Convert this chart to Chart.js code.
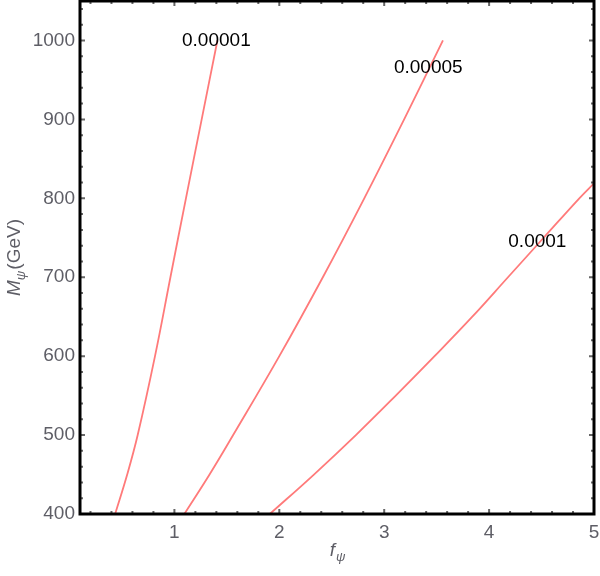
<!DOCTYPE html>
<html>
<head>
<meta charset="utf-8">
<script src="https://cdn.jsdelivr.net/npm/chart.js@4.4.0/dist/chart.umd.min.js"></script>
<style>
    html, body { margin: 0; padding: 0; background: #fff; }
    #wrap { width: 600px; height: 576px; }
</style>
</head>
<body>
<div id="wrap"><canvas id="contours" width="600" height="576"></canvas></div>
<script>
// Contour lines: f_psi for a given M_psi (GeV)
const mass1 = [400, 450, 500, 600, 700, 800, 900, 1000];
const fpsi1 = [0.435, 0.55, 0.65, 0.815, 0.962, 1.11, 1.26, 1.41];

const mass2 = [400, 450, 500, 600, 700, 800, 900, 1000];
const fpsi2 = [1.095, 1.335, 1.56, 2.0, 2.415, 2.81, 3.19, 3.56];

const mass3 = [400, 450, 500, 550, 600, 650, 700, 750, 800, 819];
const fpsi3 = [1.91, 2.33, 2.73, 3.11, 3.48, 3.84, 4.18, 4.52, 4.86, 5.0];

// contour level labels and where they sit (data coords)
const levelNames = ['0.00001', '0.00005', '0.0001'];
const levelF = [1.40, 3.42, 4.46];
const levelM = [1000, 965, 745];

const xTicks = [1, 2, 3, 4, 5];
const yTicks = [400, 500, 600, 700, 800, 900, 1000];

const lineColor = 'rgb(255, 122, 122)';
const tickColor = '#5e5e66';
const fontFamily = '"Liberation Sans", Arial, Helvetica, sans-serif';

function toPoints(fs, ms) {
    return fs.map((f, i) => ({ x: f, y: ms[i] }));
}

function contourSet(fs, ms) {
    return {
        data: toPoints(fs, ms),
        borderColor: lineColor,
        borderWidth: 1.8,
        pointRadius: 0,
        fill: false,
        tension: 0.4
    };
}

// frame, inner ticks, contour labels and axis titles, Mathematica style
const framePlugin = {
    id: 'frame',
    afterDatasetsDraw(chart) {
        const { ctx, chartArea: a, scales: { x, y } } = chart;
        ctx.save();

        // ticks on all four sides, pointing inward
        ctx.strokeStyle = '#666';
        ctx.lineWidth = 2;
        for (let v = 0.2; v < 5.01; v += 0.2) {
            const px = x.getPixelForValue(v);
            if (px < a.left + 2) continue;
            const major = Math.abs(v - Math.round(v)) < 1e-6;
            const len = major ? 5 : 3;
            ctx.beginPath();
            ctx.moveTo(px, a.bottom);
            ctx.lineTo(px, a.bottom - len);
            ctx.moveTo(px, a.top);
            ctx.lineTo(px, a.top + len);
            ctx.stroke();
        }
        for (let v = 420; v <= 1040; v += 20) {
            const py = y.getPixelForValue(v);
            const major = v % 100 === 0;
            const len = major ? 5 : 3;
            ctx.beginPath();
            ctx.moveTo(a.left, py);
            ctx.lineTo(a.left + len, py);
            ctx.moveTo(a.right, py);
            ctx.lineTo(a.right - len, py);
            ctx.stroke();
        }

        // frame
        ctx.strokeStyle = '#000';
        ctx.lineWidth = 3;
        ctx.strokeRect(a.left, a.top, a.right - a.left, a.bottom - a.top);

        // contour labels
        ctx.fillStyle = '#000';
        ctx.font = '19px ' + fontFamily;
        ctx.textAlign = 'center';
        ctx.textBaseline = 'middle';
        levelNames.forEach((name, i) => {
            ctx.fillText(name, x.getPixelForValue(levelF[i]), y.getPixelForValue(levelM[i]));
        });

        // axis titles with subscripts
        ctx.fillStyle = tickColor;
        ctx.textBaseline = 'alphabetic';
        ctx.textAlign = 'left';
        const big = 'italic 19px ' + fontFamily;
        const small = 'italic 13px ' + fontFamily;
        const plain = '19px ' + fontFamily;

        // x title: f_psi
        ctx.font = big;
        const wf = ctx.measureText('f').width;
        ctx.font = small;
        const wps = ctx.measureText('ψ').width;
        let cx = (a.left + a.right) / 2 - (wf + wps) / 2;
        ctx.font = big;
        ctx.fillText('f', cx, 556);
        ctx.font = small;
        ctx.fillText('ψ', cx + wf + 1, 561);

        // y title: M_psi(GeV), rotated
        ctx.save();
        ctx.translate(20, (a.top + a.bottom) / 2);
        ctx.rotate(-Math.PI / 2);
        ctx.font = big;
        const wm = ctx.measureText('M').width;
        ctx.font = small;
        const wp = ctx.measureText('ψ').width;
        ctx.font = plain;
        const wg = ctx.measureText('(GeV)').width;
        let sx = -(wm + wp + wg + 1) / 2;
        ctx.font = big;
        ctx.fillText('M', sx, 0);
        ctx.font = small;
        ctx.fillText('ψ', sx + wm, 5);
        ctx.font = plain;
        ctx.fillText('(GeV)', sx + wm + wp + 1, 0);
        ctx.restore();

        ctx.restore();
    }
};

const chart = new Chart(document.getElementById('contours'), {
    type: 'line',
    data: {
        datasets: [
            contourSet(fpsi1, mass1),
            contourSet(fpsi2, mass2),
            contourSet(fpsi3, mass3)
        ]
    },
    options: {
        responsive: false,
        animation: false,
        layout: { padding: { left: 0, top: 1, right: 6, bottom: 0 } },
        plugins: {
            legend: { display: false },
            tooltip: { enabled: false }
        },
        scales: {
            x: {
                type: 'linear',
                min: 0.1,
                max: 5,
                grid: { display: false, drawTicks: false },
                border: { display: false },
                afterBuildTicks: (s) => { s.ticks = xTicks.map(v => ({ value: v })); },
                afterFit: (s) => {
                    s.height = 62;
                    s.paddingLeft = 0;
                    s.paddingRight = 0;
                },
                ticks: {
                    padding: 7,
                    color: tickColor,
                    font: { family: fontFamily, size: 19 },
                    maxRotation: 0,
                    callback: (v) => String(v)
                }
            },
            y: {
                type: 'linear',
                min: 400,
                max: 1050,
                grid: { display: false, drawTicks: false },
                border: { display: false },
                afterBuildTicks: (s) => { s.ticks = yTicks.map(v => ({ value: v })); },
                afterFit: (s) => {
                    s.width = 80;
                    s.paddingTop = 0;
                    s.paddingBottom = 0;
                },
                ticks: {
                    padding: 5,
                    color: tickColor,
                    font: { family: fontFamily, size: 19 },
                    callback: (v) => String(v)
                }
            }
        }
    },
    plugins: [framePlugin]
});
</script>
</body>
</html>
